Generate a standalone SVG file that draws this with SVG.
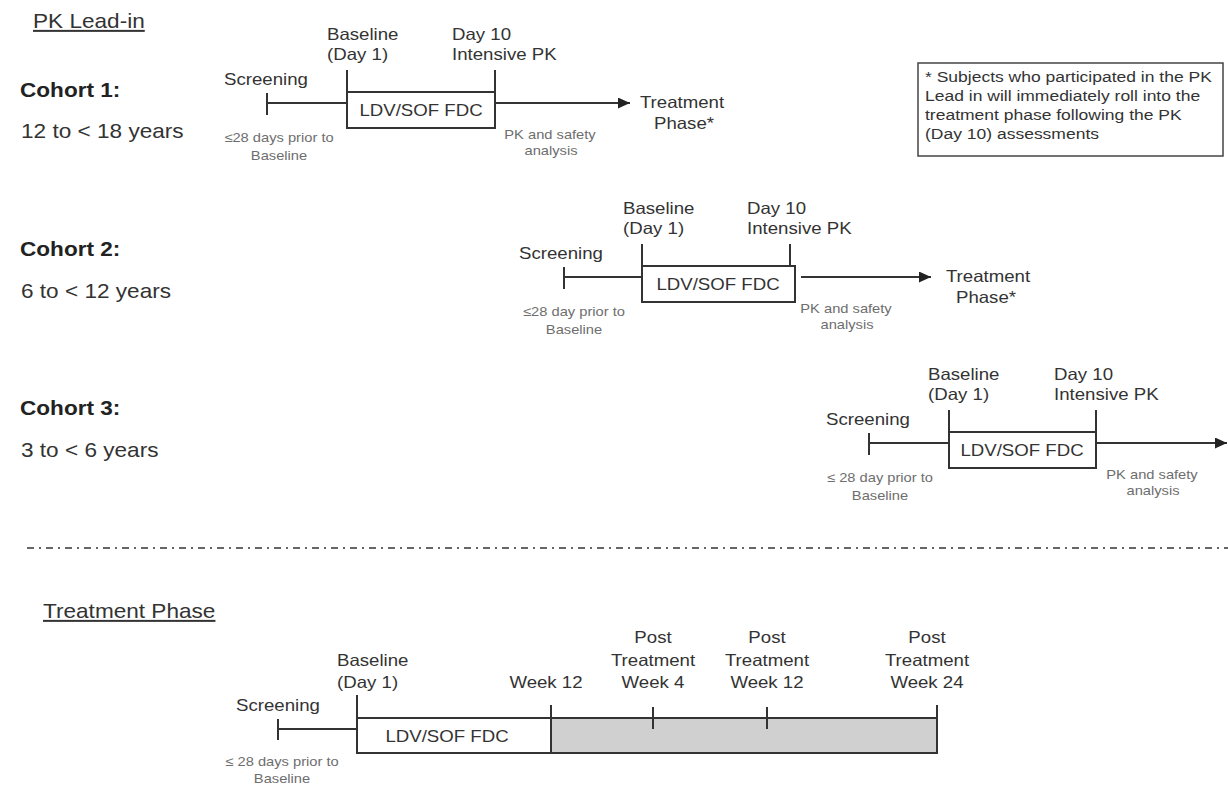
<svg xmlns="http://www.w3.org/2000/svg" width="1228" height="785" viewBox="0 0 1228 785">
<style>
text{font-family:"Liberation Sans",Arial,sans-serif;fill:#333}
.t{font-size:16.5px}
.s{font-size:13px;fill:#6e6e6e}
.h{font-size:20px;text-decoration:underline}
.c{font-size:20px}
.cb{font-size:20px;font-weight:bold;fill:#222}
.n{font-size:15.5px}
.m{text-anchor:middle}
.ln{stroke:#333;stroke-width:2;fill:none}
.bx{stroke:#333;stroke-width:2;fill:#fff}
.gr{stroke:#333;stroke-width:2;fill:#d0d0d0}
.sep{stroke:#666;stroke-width:2;stroke-dasharray:7 5 2 5;fill:none}
</style>
<defs>
<marker id="ah" markerUnits="userSpaceOnUse" markerWidth="12" markerHeight="11" refX="12" refY="5.5" orient="auto">
<path d="M0,0 L12,5.5 L0,11 z" fill="#222"/>
</marker>
</defs>
<rect width="1228" height="785" fill="#fff"/>

<g id="headers">
<text class="h" transform="translate(33 28) scale(1.13 1)">PK Lead-in</text>
<text class="h" transform="translate(43 618) scale(1.13 1)">Treatment Phase</text>
</g>

<g id="cohort-labels">
<text class="cb" transform="translate(20 97) scale(1.13 1)">Cohort 1:</text>
<text class="c" transform="translate(21 138) scale(1.13 1)">12 to &lt; 18 years</text>
<text class="cb" transform="translate(20 256) scale(1.13 1)">Cohort 2:</text>
<text class="c" transform="translate(21 298) scale(1.13 1)">6 to &lt; 12 years</text>
<text class="cb" transform="translate(20 415) scale(1.13 1)">Cohort 3:</text>
<text class="c" transform="translate(21 457) scale(1.13 1)">3 to &lt; 6 years</text>
</g>

<g id="note">
<rect x="918" y="63" width="305" height="93" fill="#fff" stroke="#444" stroke-width="1.5"/>
<text class="n" transform="translate(925 82) scale(1.13 1)">* Subjects who participated in the PK</text>
<text class="n" transform="translate(925 101) scale(1.13 1)">Lead in will immediately roll into the</text>
<text class="n" transform="translate(925 120) scale(1.13 1)">treatment phase following the PK</text>
<text class="n" transform="translate(925 139) scale(1.13 1)">(Day 10) assessments</text>
</g>

<g id="c1-screening">
<text class="t m" transform="translate(266 85) scale(1.13 1)">Screening</text>
<text class="s m" transform="translate(279 142) scale(1.13 1)">≤28 days prior to</text>
<text class="s m" transform="translate(279 160) scale(1.13 1)">Baseline</text>
</g>
<g id="c1-baseline">
<text class="t" transform="translate(327 40) scale(1.13 1)">Baseline</text>
<text class="t" transform="translate(327 60) scale(1.13 1)">(Day 1)</text>
</g>
<g id="c1-day10">
<text class="t" transform="translate(452 40) scale(1.13 1)">Day 10</text>
<text class="t" transform="translate(452 60) scale(1.13 1)">Intensive PK</text>
</g>
<g id="c1-box">
<rect class="bx" x="347" y="92" width="148" height="36"/>
<text class="t m" transform="translate(421 116) scale(1.13 1)">LDV/SOF FDC</text>
</g>
<g id="c1-pk">
<text class="s m" transform="translate(550 139) scale(1.13 1)">PK and safety</text>
<text class="s m" transform="translate(551 155) scale(1.13 1)">analysis</text>
</g>
<g id="c1-treatment">
<text class="t m" transform="translate(682 108) scale(1.13 1)">Treatment</text>
<text class="t m" transform="translate(684 129) scale(1.13 1)">Phase*</text>
</g>

<g id="c2-screening">
<text class="t m" transform="translate(561 259) scale(1.13 1)">Screening</text>
<text class="s m" transform="translate(574 316) scale(1.13 1)">≤28 day prior to</text>
<text class="s m" transform="translate(574 334) scale(1.13 1)">Baseline</text>
</g>
<g id="c2-baseline">
<text class="t" transform="translate(623 214) scale(1.13 1)">Baseline</text>
<text class="t" transform="translate(623 234) scale(1.13 1)">(Day 1)</text>
</g>
<g id="c2-day10">
<text class="t" transform="translate(747 214) scale(1.13 1)">Day 10</text>
<text class="t" transform="translate(747 234) scale(1.13 1)">Intensive PK</text>
</g>
<g id="c2-box">
<rect class="bx" x="642" y="266" width="153" height="36"/>
<text class="t m" transform="translate(718 290) scale(1.13 1)">LDV/SOF FDC</text>
</g>
<g id="c2-pk">
<text class="s m" transform="translate(846 313) scale(1.13 1)">PK and safety</text>
<text class="s m" transform="translate(847 329) scale(1.13 1)">analysis</text>
</g>
<g id="c2-treatment">
<text class="t m" transform="translate(988 282) scale(1.13 1)">Treatment</text>
<text class="t m" transform="translate(986 303) scale(1.13 1)">Phase*</text>
</g>

<g id="c3-screening">
<text class="t m" transform="translate(868 425) scale(1.13 1)">Screening</text>
<text class="s m" transform="translate(880 482) scale(1.13 1)">≤ 28 day prior to</text>
<text class="s m" transform="translate(880 500) scale(1.13 1)">Baseline</text>
</g>
<g id="c3-baseline">
<text class="t" transform="translate(928 380) scale(1.13 1)">Baseline</text>
<text class="t" transform="translate(928 400) scale(1.13 1)">(Day 1)</text>
</g>
<g id="c3-day10">
<text class="t" transform="translate(1054 380) scale(1.13 1)">Day 10</text>
<text class="t" transform="translate(1054 400) scale(1.13 1)">Intensive PK</text>
</g>
<g id="c3-box">
<rect class="bx" x="949" y="432" width="147" height="36"/>
<text class="t m" transform="translate(1022 456) scale(1.13 1)">LDV/SOF FDC</text>
</g>
<g id="c3-pk">
<text class="s m" transform="translate(1152 479) scale(1.13 1)">PK and safety</text>
<text class="s m" transform="translate(1153 495) scale(1.13 1)">analysis</text>
</g>

<g id="separator">
<line class="sep" x1="27" y1="548" x2="1228" y2="548"/>
</g>

<g id="tp-screening">
<text class="t m" transform="translate(278 711) scale(1.13 1)">Screening</text>
<text class="s m" transform="translate(282 766) scale(1.13 1)">≤ 28 days prior to</text>
<text class="s m" transform="translate(282 783) scale(1.13 1)">Baseline</text>
</g>
<g id="tp-baseline">
<text class="t" transform="translate(337 666) scale(1.13 1)">Baseline</text>
<text class="t" transform="translate(337 688) scale(1.13 1)">(Day 1)</text>
</g>
<g id="tp-box">
<rect class="bx" x="357" y="718" width="194" height="35"/>
<text class="t m" transform="translate(447 742) scale(1.13 1)">LDV/SOF FDC</text>
</g>
<g id="tp-followup">
<rect class="gr" x="551" y="718" width="386" height="35"/>
</g>
<g id="tp-week12">
<text class="t m" transform="translate(546 688) scale(1.13 1)">Week 12</text>
</g>
<g id="tp-ptw4">
<text class="t m" transform="translate(653 643) scale(1.13 1)">Post</text>
<text class="t m" transform="translate(653 666) scale(1.13 1)">Treatment</text>
<text class="t m" transform="translate(653 688) scale(1.13 1)">Week 4</text>
</g>
<g id="tp-ptw12">
<text class="t m" transform="translate(767 643) scale(1.13 1)">Post</text>
<text class="t m" transform="translate(767 666) scale(1.13 1)">Treatment</text>
<text class="t m" transform="translate(767 688) scale(1.13 1)">Week 12</text>
</g>
<g id="tp-ptw24">
<text class="t m" transform="translate(927 643) scale(1.13 1)">Post</text>
<text class="t m" transform="translate(927 666) scale(1.13 1)">Treatment</text>
<text class="t m" transform="translate(927 688) scale(1.13 1)">Week 24</text>
</g>

<g id="connectors">
<!-- cohort 1 -->
<line class="ln" x1="267" y1="93" x2="267" y2="115"/>
<line class="ln" x1="267" y1="103" x2="347" y2="103"/>
<line class="ln" x1="347" y1="70" x2="347" y2="92"/>
<line class="ln" x1="495" y1="70" x2="495" y2="92"/>
<line class="ln" x1="495" y1="103" x2="630" y2="103" marker-end="url(#ah)"/>
<!-- cohort 2 -->
<line class="ln" x1="564" y1="267" x2="564" y2="289"/>
<line class="ln" x1="564" y1="277" x2="642" y2="277"/>
<line class="ln" x1="642" y1="244" x2="642" y2="266"/>
<line class="ln" x1="790" y1="244" x2="790" y2="266"/>
<line class="ln" x1="801" y1="277" x2="931" y2="277" marker-end="url(#ah)"/>
<!-- cohort 3 -->
<line class="ln" x1="869" y1="433" x2="869" y2="455"/>
<line class="ln" x1="869" y1="443" x2="949" y2="443"/>
<line class="ln" x1="949" y1="410" x2="949" y2="432"/>
<line class="ln" x1="1096" y1="410" x2="1096" y2="432"/>
<line class="ln" x1="1096" y1="443" x2="1227" y2="443" marker-end="url(#ah)"/>
<!-- treatment phase -->
<line class="ln" x1="278" y1="719" x2="278" y2="740"/>
<line class="ln" x1="278" y1="729" x2="357" y2="729"/>
<line class="ln" x1="357" y1="695" x2="357" y2="718"/>
<line class="ln" x1="551" y1="705" x2="551" y2="718"/>
<line class="ln" x1="653" y1="707" x2="653" y2="729"/>
<line class="ln" x1="767" y1="707" x2="767" y2="729"/>
<line class="ln" x1="937" y1="705" x2="937" y2="718"/>
</g>
</svg>
